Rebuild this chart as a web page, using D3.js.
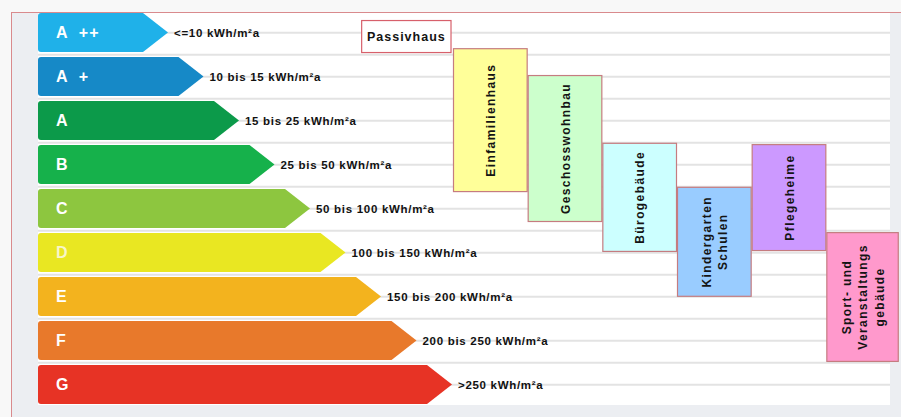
<!DOCTYPE html>
<html>
<head>
<meta charset="utf-8">
<script src="https://cdn.jsdelivr.net/npm/d3@7"></script>
<style>
  body { margin: 0; background: #f8f8f8; }
  text { font-family: "Liberation Sans", Arial, sans-serif; font-weight: bold; }
</style>
</head>
<body>
<div id="chart"></div>
<script>
//Energy classes, top to bottom
const classes = ["A ++", "A +", "A", "B", "C", "D", "E", "F", "G"];
//Consumption range for each class
const ranges = ["<=10 kWh/m²a", "10 bis 15 kWh/m²a", "15 bis 25 kWh/m²a", "25 bis 50 kWh/m²a",
    "50 bis 100 kWh/m²a", "100 bis 150 kWh/m²a", "150 bis 200 kWh/m²a", "200 bis 250 kWh/m²a", ">250 kWh/m²a"];
const classColors = ["#1fb1e9", "#1689c7", "#0c9a4a", "#16b14b", "#8dc63f", "#e9e722", "#f3b31e", "#e8792b", "#e73325"];

//Building types and the class span they reach (in class units, 0 = top of A ++)
const buildings = ["Passivhaus", "Einfamilienhaus", "Geschosswohnbau", "Bürogebäude",
    "Kindergarten\nSchulen", "Pflegeheime", "Sport- und\nVeranstaltungs\ngebäude"];
const spanFrom = [0.16, 0.8, 1.41, 2.95, 3.95, 2.98, 4.98];
const spanTo = [0.91, 4.07, 4.75, 5.43, 6.45, 5.41, 7.93];
//Column slot of each building box
const colFrom = [-1.23, 0, 1, 2, 3, 4, 5];
const colTo = [-0.02, 1, 2, 3, 4, 5, 5.97];
const boxColors = ["#ffffff", "#ffff99", "#ccffcc", "#ccffff", "#99ccff", "#cc99ff", "#ff99cc"];

const w = 901, h = 417;
const svg = d3.select("#chart").append("svg").attr("width", w).attr("height", h);

//Scales
const y = d3.scaleLinear().domain([0, classes.length]).range([13, 409]);
const tipX = d3.scaleLinear().domain([0, classes.length - 1]).range([168, 452]);
const colX = d3.scaleLinear().domain([0, 6]).range([453, 901]);
const barH = 39, barX = 38, depth = 25;

//Frame: gray panel, white plot area, red border
svg.append("rect").attr("x", 11).attr("y", 12).attr("width", w - 11).attr("height", h - 12).attr("fill", "#eceef2");
svg.append("rect").attr("x", barX).attr("y", 13).attr("width", 890 - barX).attr("height", 392).attr("fill", "#ffffff");
svg.append("line").attr("x1", 11).attr("x2", w).attr("y1", 12.5).attr("y2", 12.5).attr("stroke", "#d98a8d");
svg.append("line").attr("x1", 11.5).attr("x2", 11.5).attr("y1", 12).attr("y2", h).attr("stroke", "#d98a8d");

//Stripes
svg.append("g").selectAll("line")
    .data(d3.range(classes.length * 2 - 1))
    .join("line")
    .attr("x1", barX).attr("x2", 890)
    .attr("y1", d => y(0.45 + d / 2)).attr("y2", d => y(0.45 + d / 2))
    .attr("stroke", "#e3e3e3").attr("stroke-width", 2);

//Arrow bars
const arrow = (i) => {
    const t = y(i), b = t + barH, m = t + barH / 2, tip = tipX(i), r = 3;
    return `M${barX + r},${t} L${tip - depth},${t} L${tip},${m} L${tip - depth},${b} L${barX + r},${b} ` +
        `Q${barX},${b} ${barX},${b - r} L${barX},${t + r} Q${barX},${t} ${barX + r},${t} Z`;
};
const bars = svg.append("g").selectAll("g").data(classes).join("g");
bars.append("path").attr("d", (d, i) => arrow(i)).attr("fill", (d, i) => classColors[i]);
bars.append("text")
    .attr("x", 56).attr("y", (d, i) => y(i) + barH / 2 + 5.5)
    .attr("fill", (d, i) => i === 5 ? "#f8f6c8" : "#ffffff")
    .attr("font-size", 16).attr("letter-spacing", 1).style("white-space", "pre")
    .text(d => d.replace(" ", "  "));
bars.append("text")
    .attr("x", (d, i) => tipX(i) + 6).attr("y", (d, i) => y(i) + barH / 2 + 4.5)
    .attr("fill", "#111").attr("font-size", 11.5).attr("letter-spacing", 0.7)
    .text((d, i) => ranges[i]);

//Building type boxes
const boxes = svg.append("g").selectAll("g").data(buildings).join("g");
boxes.append("rect")
    .attr("x", (d, i) => colX(colFrom[i]) + 0.5)
    .attr("y", (d, i) => y(spanFrom[i]) + 0.5)
    .attr("width", (d, i) => colX(colTo[i]) - colX(colFrom[i]) - 1)
    .attr("height", (d, i) => y(spanTo[i]) - y(spanFrom[i]) - 1)
    .attr("fill", (d, i) => boxColors[i])
    .attr("stroke", (d, i) => i === 0 ? "#d7606b" : "#c57c80").attr("stroke-width", 1.2);
boxes.each(function (d, i) {
    const cx = (colX(colFrom[i]) + colX(colTo[i])) / 2;
    const cy = (y(spanFrom[i]) + y(spanTo[i])) / 2;
    const lines = d.split("\n");
    const lh = 16.5;
    const t = d3.select(this).append("text")
        .attr("fill", "#141414").attr("text-anchor", "middle")
        .attr("font-size", i === 0 ? 12.5 : 12).attr("letter-spacing", i === 0 ? 1 : 1.4)
        .attr("transform", i === 0 ? `translate(${cx},${cy + 4.5})` : `translate(${cx},${cy}) rotate(-90)`);
    lines.forEach((l, k) => {
        t.append("tspan").attr("x", 0)
            .attr("y", (k - (lines.length - 1) / 2) * lh + 4.5 * (i === 0 ? 0 : 1))
            .text(l);
    });
});
</script>
</body>
</html>
